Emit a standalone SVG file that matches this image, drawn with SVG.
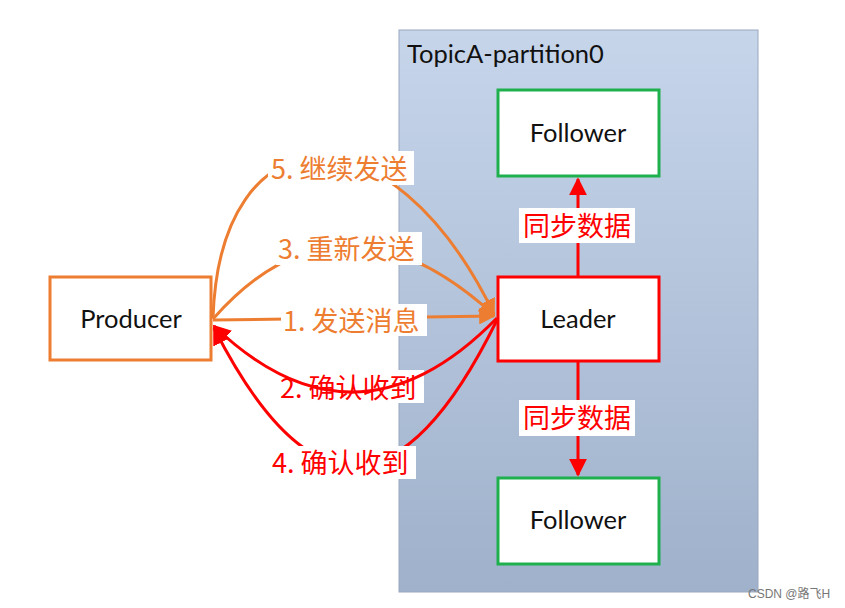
<svg xmlns="http://www.w3.org/2000/svg" width="845" height="608" viewBox="0 0 845 608">
<defs>
<linearGradient id="bg" x1="0" y1="0" x2="0" y2="1">
<stop offset="0" stop-color="#c6d5ea"/>
<stop offset="1" stop-color="#9fb1cb"/>
</linearGradient>
<marker id="ao" viewBox="0 0 10 10" refX="9" refY="5" markerWidth="5.5" markerHeight="5.5" markerUnits="strokeWidth" orient="auto">
<path d="M0,0 L10,5 L0,10 z" fill="#ed7d31"/>
</marker>
<marker id="ar" viewBox="0 0 10 10" refX="9" refY="5" markerWidth="6" markerHeight="6" markerUnits="strokeWidth" orient="auto">
<path d="M0,0 L10,5 L0,10 z" fill="#ff0000"/>
</marker>
<style>
.lat{font-family:Lato,"Open Sans","Liberation Sans",sans-serif;fill:#111;}
.cn{font-family:"Noto Sans CJK SC","Noto Sans",sans-serif;font-size:27px;}
.o{fill:#ed7d31;}
.r{fill:#ff0000;}
.bgw{fill:#ffffff;}
.lo{fill:none;stroke:#ed7d31;stroke-width:3;marker-end:url(#ao);}
.lr{fill:none;stroke:#ff0000;stroke-width:3;marker-end:url(#ar);}
</style>
</defs>
<rect width="845" height="608" fill="#ffffff"/>
<g id="topic">
<rect x="399" y="30" width="359" height="562" fill="url(#bg)" stroke="#9aa8bf" stroke-width="1"/>
<text class="lat" x="407" y="63" font-size="25.5">TopicA-partition0</text>
</g>
<g id="producer">
<rect x="50" y="277" width="161" height="83" fill="#ffffff" stroke="#ed7d31" stroke-width="3"/>
<text class="lat" x="131" y="328" font-size="25.5" text-anchor="middle">Producer</text>
</g>
<g id="leader">
<rect x="498" y="277" width="161" height="84" fill="#ffffff" stroke="#ff0000" stroke-width="3"/>
<text class="lat" x="578" y="328" font-size="25.5" text-anchor="middle">Leader</text>
</g>
<g id="follower1">
<rect x="498" y="90" width="161" height="86" fill="#ffffff" stroke="#1fb04e" stroke-width="3"/>
<text class="lat" x="578" y="142" font-size="25.5" text-anchor="middle">Follower</text>
</g>
<g id="follower2">
<rect x="498" y="478" width="161" height="86" fill="#ffffff" stroke="#1fb04e" stroke-width="3"/>
<text class="lat" x="578" y="529" font-size="25.5" text-anchor="middle">Follower</text>
</g>
<g id="connectors">
<path class="lo" d="M213,318 C220,110 390,100 494,314"/>
<path class="lo" d="M213,319 Q340,175 494,315"/>
<path class="lo" d="M213,320 L494,316"/>
<path class="lr" d="M497,320 Q356,607 214,328"/>
<line class="lr" x1="578" y1="277" x2="578" y2="179"/>
<line class="lr" x1="578" y1="361" x2="578" y2="475"/>
<rect class="bgw" x="268" y="151" width="146" height="34"/>
<text class="cn o" x="271" y="179">5. 继续发送</text>
<rect class="bgw" x="276" y="232" width="146" height="33"/>
<text class="cn o" x="278" y="259">3. 重新发送</text>
<rect class="bgw" x="281" y="304" width="146" height="32"/>
<text class="cn o" x="283" y="331">1. 发送消息</text>
<rect class="bgw" x="278" y="370" width="146" height="33"/>
<text class="cn r" x="280" y="398">2. 确认收到</text>
<path class="lr" d="M497,318 Q356,462 214,326"/>
<rect class="bgw" x="270" y="446" width="146" height="33"/>
<text class="cn r" x="272" y="473">4. 确认收到</text>
<rect class="bgw" x="519" y="208" width="116" height="35"/>
<text class="cn r" x="577" y="236" text-anchor="middle" font-size="28.5">同步数据</text>
<rect class="bgw" x="519" y="400" width="116" height="36"/>
<text class="cn r" x="577" y="428" text-anchor="middle" font-size="28.5">同步数据</text>
</g>
<text x="748" y="598" font-family="'Liberation Sans','Noto Sans CJK SC',sans-serif" font-size="12" fill="#777">CSDN @路飞H</text>
</svg>
